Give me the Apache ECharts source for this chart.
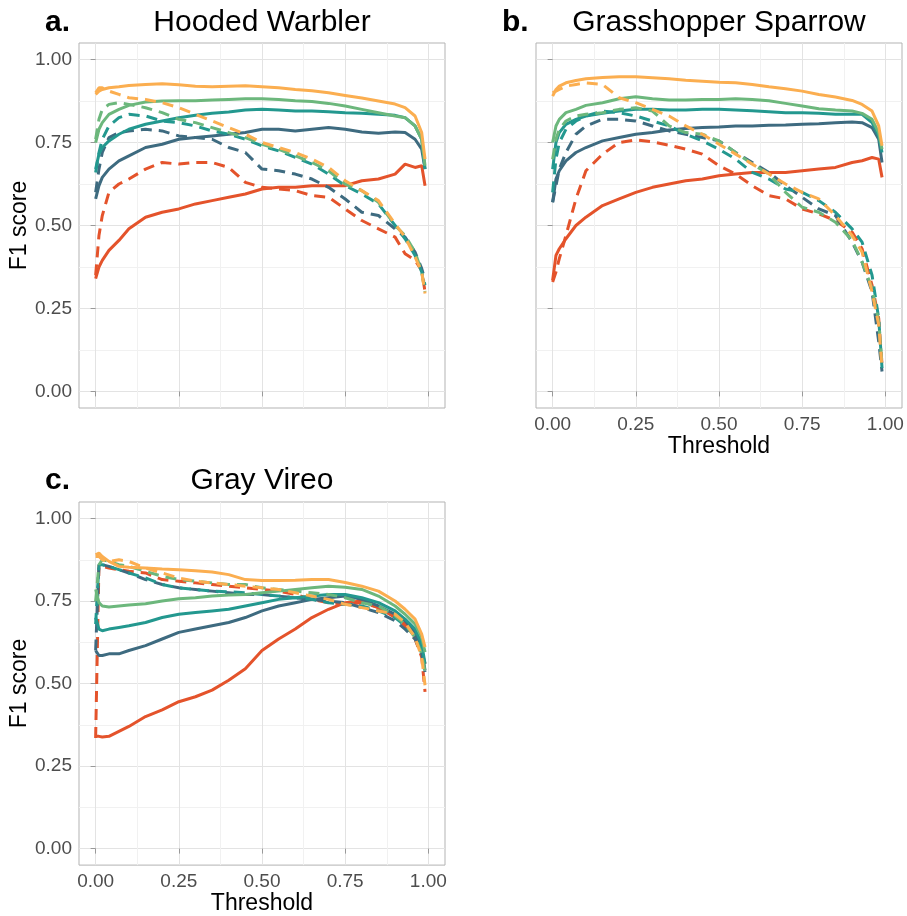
<!DOCTYPE html>
<html>
<head>
<meta charset="utf-8">
<script src="https://cdn.jsdelivr.net/npm/echarts@6/dist/echarts.min.js"></script>
<style>
html,body{margin:0;padding:0;background:#fff;}
#chart{width:907px;height:916px;}
</style>
</head>
<body>
<div id="chart"></div>
<script>
// Shared threshold grid (x values)
const thresholds = [0, 0.01, 0.02, 0.04, 0.07, 0.1, 0.15, 0.2, 0.25, 0.3, 0.35, 0.4, 0.45, 0.5, 0.55, 0.6, 0.65, 0.7, 0.75, 0.8, 0.85, 0.9, 0.93, 0.96, 0.98, 0.99];
const tickValues = [0, 0.25, 0.5, 0.75, 1];
const minorValues = [0.125, 0.375, 0.625, 0.875];

// a. Hooded Warbler
const a_orange_solid = [.895,.905,.91,.915,.918,.922,.925,.927,.924,.92,.918,.92,.921,.918,.915,.91,.906,.90,.892,.884,.875,.866,.855,.83,.78,.70];
const a_orange_dashed = [.90,.915,.915,.905,.895,.885,.88,.87,.855,.835,.815,.795,.775,.75,.735,.72,.70,.675,.635,.605,.575,.505,.465,.405,.36,.295];
const a_green_solid = [.75,.79,.81,.835,.85,.862,.872,.875,.876,.876,.878,.88,.882,.882,.88,.876,.874,.868,.86,.85,.84,.83,.825,.80,.76,.68];
const a_green_dashed = [.76,.82,.85,.865,.87,.865,.855,.84,.82,.81,.795,.78,.765,.745,.73,.71,.69,.665,.625,.605,.57,.50,.47,.42,.36,.30];
const a_teal_solid = [.67,.715,.735,.755,.775,.79,.805,.815,.825,.832,.838,.842,.848,.85,.848,.845,.845,.843,.84,.838,.835,.832,.825,.80,.76,.67];
const a_teal_dashed = [.66,.72,.76,.80,.825,.835,.83,.815,.81,.80,.785,.775,.76,.74,.725,.705,.685,.655,.62,.595,.565,.50,.46,.41,.36,.32];
const a_slate_solid = [.58,.62,.645,.67,.695,.71,.735,.745,.76,.765,.77,.775,.78,.79,.79,.785,.79,.795,.79,.782,.778,.782,.78,.76,.73,.67];
const a_slate_dashed = [.60,.67,.72,.765,.78,.785,.79,.785,.77,.765,.76,.735,.72,.67,.665,.655,.64,.615,.58,.54,.53,.49,.465,.42,.37,.335];
const a_red_solid = [.34,.375,.395,.425,.455,.49,.525,.54,.55,.565,.575,.585,.595,.61,.615,.615,.62,.62,.62,.635,.64,.655,.685,.675,.68,.62];
const a_red_dashed = [.35,.47,.53,.60,.625,.64,.67,.69,.685,.69,.69,.675,.63,.615,.61,.605,.59,.585,.55,.515,.49,.465,.415,.395,.365,.30];

// b. Grasshopper Sparrow
const b_orange_solid = [.89,.91,.92,.93,.937,.942,.946,.948,.948,.945,.942,.938,.935,.932,.93,.925,.918,.912,.905,.895,.887,.877,.865,.845,.80,.74];
const b_orange_dashed = [.90,.905,.91,.92,.925,.93,.925,.885,.87,.85,.83,.80,.775,.745,.715,.685,.655,.625,.60,.58,.53,.47,.42,.30,.20,.07];
const b_green_solid = [.75,.80,.82,.84,.85,.862,.87,.882,.888,.882,.878,.878,.88,.88,.882,.88,.876,.868,.86,.852,.848,.845,.838,.82,.78,.73];
const b_green_dashed = [.70,.76,.79,.815,.83,.835,.84,.85,.855,.845,.80,.78,.775,.755,.72,.685,.655,.60,.555,.54,.51,.455,.39,.31,.21,.08];
const b_teal_solid = [.67,.75,.78,.805,.82,.83,.838,.845,.85,.85,.848,.848,.85,.85,.848,.846,.843,.84,.84,.838,.835,.835,.835,.81,.77,.72];
const b_teal_dashed = [.60,.70,.75,.79,.815,.83,.845,.84,.83,.815,.80,.775,.755,.73,.70,.66,.64,.61,.60,.575,.54,.49,.45,.35,.22,.07];
const b_slate_solid = [.57,.64,.665,.695,.72,.735,.755,.765,.775,.78,.788,.792,.795,.797,.80,.80,.802,.803,.805,.807,.81,.812,.81,.795,.76,.69];
const b_slate_dashed = [.57,.62,.67,.72,.775,.80,.82,.82,.815,.80,.785,.775,.765,.755,.72,.69,.66,.62,.585,.55,.53,.45,.39,.30,.15,.06];
const b_red_solid = [.335,.41,.43,.46,.50,.525,.56,.58,.60,.615,.625,.635,.64,.65,.655,.66,.66,.66,.665,.67,.675,.69,.695,.705,.70,.645];
const b_red_dashed = [.33,.36,.40,.47,.58,.665,.715,.75,.758,.752,.742,.73,.715,.68,.655,.62,.59,.58,.55,.535,.515,.48,.43,.32,.22,.08];

// c. Gray Vireo
const c_orange_solid = [.89,.895,.885,.87,.855,.852,.85,.847,.845,.842,.838,.83,.815,.812,.812,.813,.815,.815,.806,.795,.78,.75,.725,.695,.65,.61];
const c_orange_dashed = [.885,.885,.875,.87,.875,.87,.85,.835,.82,.81,.805,.80,.795,.79,.785,.775,.765,.755,.74,.73,.72,.71,.685,.64,.58,.495];
const c_green_solid = [.785,.745,.735,.732,.735,.738,.742,.75,.757,.76,.765,.768,.77,.775,.78,.785,.79,.795,.792,.785,.765,.735,.71,.68,.64,.595];
const c_green_dashed = [.75,.86,.875,.87,.86,.855,.84,.825,.815,.81,.805,.80,.80,.79,.785,.78,.775,.77,.76,.745,.735,.705,.68,.64,.59,.535];
const c_teal_solid = [.70,.665,.66,.665,.67,.675,.685,.70,.71,.715,.72,.725,.735,.745,.755,.76,.765,.77,.77,.76,.745,.72,.695,.665,.62,.56];
const c_teal_dashed = [.68,.86,.86,.855,.845,.835,.82,.80,.79,.785,.78,.778,.775,.77,.765,.76,.755,.745,.74,.735,.72,.70,.675,.645,.60,.53];
const c_slate_solid = [.60,.585,.585,.59,.59,.60,.615,.635,.655,.665,.675,.685,.70,.72,.735,.745,.755,.76,.765,.755,.735,.71,.69,.655,.60,.54];
const c_slate_dashed = [.60,.86,.86,.855,.845,.835,.815,.80,.79,.785,.78,.775,.77,.77,.765,.76,.755,.75,.745,.73,.715,.69,.665,.635,.59,.535];
const c_red_solid = [.34,.34,.338,.34,.355,.37,.40,.42,.445,.46,.48,.51,.545,.60,.635,.665,.70,.725,.745,.75,.73,.705,.68,.645,.60,.56];
const c_red_dashed = [.335,.86,.855,.85,.845,.84,.835,.815,.81,.805,.80,.795,.79,.785,.78,.77,.755,.745,.74,.745,.73,.70,.675,.635,.58,.475];

const colors = { red:'#E4532B', slate:'#3E6B80', teal:'#23988F', green:'#6CB77C', orange:'#FBAE50' };
const FONT = '"Liberation Sans", Arial, Helvetica, sans-serif';

const panels = [
  { series: { red:[a_red_solid,a_red_dashed], slate:[a_slate_solid,a_slate_dashed], teal:[a_teal_solid,a_teal_dashed], green:[a_green_solid,a_green_dashed], orange:[a_orange_solid,a_orange_dashed] } },
  { series: { red:[b_red_solid,b_red_dashed], slate:[b_slate_solid,b_slate_dashed], teal:[b_teal_solid,b_teal_dashed], green:[b_green_solid,b_green_dashed], orange:[b_orange_solid,b_orange_dashed] } },
  { series: { red:[c_red_solid,c_red_dashed], slate:[c_slate_solid,c_slate_dashed], teal:[c_teal_solid,c_teal_dashed], green:[c_green_solid,c_green_dashed], orange:[c_orange_solid,c_orange_dashed] } }
];

const grids = [
  { left:79, top:43, width:366, height:365, show:true, borderColor:'#B3B3B3', borderWidth:1, backgroundColor:'#fff' },
  { left:536, top:43, width:366, height:365, show:true, borderColor:'#B3B3B3', borderWidth:1, backgroundColor:'#fff' },
  { left:79, top:502, width:366, height:365, show:true, borderColor:'#B3B3B3', borderWidth:1, backgroundColor:'#fff' }
];

function majorAxis(gi, showLabels, name, nameGap) {
  return {
    type:'value', gridIndex:gi, min:-0.05, max:1.05,
    axisLine:{show:false},
    axisTick:{show:true, customValues:tickValues, length:5, lineStyle:{color:'#999999', width:1}},
    axisLabel:{show:showLabels, customValues:tickValues, formatter:v => v.toFixed(2), color:'#4D4D4D', fontSize:19, fontFamily:FONT, margin:7},
    splitLine:{show:true, lineStyle:{color:'#E3E3E3', width:1}},
    name:name, nameLocation:'middle', nameGap:nameGap,
    nameTextStyle:{fontSize:23, color:'#000', fontFamily:FONT}
  };
}
function minorAxis(gi) {
  return {
    type:'value', gridIndex:gi, min:-0.05, max:1.05,
    axisLine:{show:false},
    axisTick:{show:false, customValues:minorValues},
    axisLabel:{show:false, customValues:minorValues},
    splitLine:{show:true, lineStyle:{color:'#F1F1F1', width:1}}
  };
}

const xAxis = [
  majorAxis(0, false, '', 0),
  majorAxis(1, true, 'Threshold', 24),
  majorAxis(2, true, 'Threshold', 24),
  minorAxis(0), minorAxis(1), minorAxis(2)
];
const yAxis = [
  majorAxis(0, true, 'F1 score', 42),
  majorAxis(1, false, '', 0),
  majorAxis(2, true, 'F1 score', 42),
  minorAxis(0), minorAxis(1), minorAxis(2)
];

const series = [];
panels.forEach((p, gi) => {
  ['red','slate','teal','green','orange'].forEach(key => {
    [0,1].forEach(k => {
      const vals = p.series[key][k];
      series.push({
        type:'line', xAxisIndex:gi, yAxisIndex:gi,
        data: thresholds.map((t,i) => [t, vals[i]]),
        showSymbol:false, symbol:'none', smooth:false,
        lineStyle:{ color:colors[key], width:3, type: k === 0 ? 'solid' : [11,7], cap:'butt' },
        itemStyle:{ color:colors[key] },
        z: 3, silent:true
      });
    });
  });
});

function label(x, y, text, bold, align) {
  return { type:'text', x:x, y:y, silent:true,
    style:{ text:text, fill:'#000', font:(bold?'bold ':'') + '30px ' + FONT, align:align, verticalAlign:'middle' } };
}

const chart = echarts.init(document.getElementById('chart'), null, {renderer:'canvas'});
chart.setOption({
  animation:false,
  backgroundColor:'#fff',
  grid:grids, xAxis:xAxis, yAxis:yAxis, series:series,
  graphic:[
    label(45, 23, 'a.', true, 'left'),
    label(262, 23, 'Hooded Warbler', false, 'center'),
    label(502, 23, 'b.', true, 'left'),
    label(719, 23, 'Grasshopper Sparrow', false, 'center'),
    label(45, 481, 'c.', true, 'left'),
    label(262, 481, 'Gray Vireo', false, 'center')
  ]
});
</script>
</body>
</html>
